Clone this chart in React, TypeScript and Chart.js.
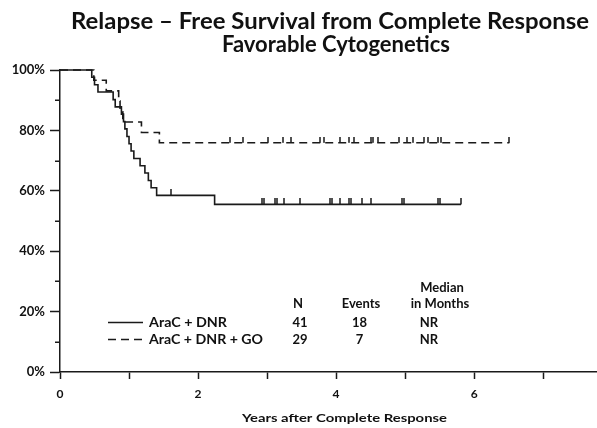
import { useEffect, useRef } from 'react';
import { Chart, registerables } from 'chart.js';

Chart.register(...registerables);

// ---- Text ----
const titleLines = ['Relapse \u2013 Free Survival from Complete Response', 'Favorable Cytogenetics'];
const xAxisTitle = 'Years after Complete Response';
const seriesNames = ['AraC + DNR', 'AraC + DNR + GO'];
const tableHeaderN = 'N';
const tableHeaderEvents = 'Events';
const tableHeaderMedian = ['Median', 'in Months'];
const tableN = ['41', '29'];
const tableEvents = ['18', '7'];
const tableMedian = ['NR', 'NR'];

// ---- Axes ----
const xMin = 0;
const xMax = 7.78;
const xLabelledTicks = [0, 2, 4, 6];
const yMin = 0;
const yMax = 100;
const yLabelledTicks = [0, 20, 40, 60, 80, 100];

// ---- AraC + DNR (solid) ----
const dnrEventTimes = [0.46, 0.5, 0.55, 0.77, 0.8, 0.89, 0.92, 0.94, 0.97, 1.0, 1.03, 1.07, 1.16, 1.23, 1.28, 1.32, 1.4, 2.24];
const dnrSurvival = [97.6, 95.1, 92.7, 90.2, 87.8, 85.4, 82.9, 80.5, 78.0, 75.6, 73.2, 70.7, 68.3, 65.9, 63.4, 61.0, 58.5, 55.5];
const dnrFollowUpEnd = 5.81;
const dnrCensored = [1.61, 2.93, 2.95, 3.12, 3.15, 3.24, 3.47, 3.91, 3.94, 4.05, 4.19, 4.22, 4.38, 4.5, 4.96, 4.98, 5.48, 5.51, 5.81];

// ---- AraC + DNR + GO (dashed) ----
const goEventTimes = [0.49, 0.67, 0.85, 0.87, 0.91, 1.18, 1.44];
const goSurvival = [96.6, 93.1, 89.7, 86.2, 82.8, 79.3, 75.9];
const goFollowUpEnd = 6.51;
const goCensored = [2.47, 2.65, 3.02, 3.23, 3.35, 3.77, 3.82, 4.06, 4.19, 4.26, 4.5, 4.53, 4.6, 4.91, 5.03, 5.11, 5.28, 5.33, 5.47, 5.52, 6.51];

const INK = '#1a1a1a';
const FONT = 'Lato, "DejaVu Sans", sans-serif';

function stepPoints(times: number[], surv: number[], end: number) {
  const pts = [{ x: 0, y: 100 }];
  times.forEach((t, i) => pts.push({ x: t, y: surv[i] }));
  pts.push({ x: end, y: surv[surv.length - 1] });
  return pts;
}

function survivalAt(times: number[], surv: number[], t: number) {
  let s = 100;
  for (let i = 0; i < times.length; i++) if (times[i] <= t) s = surv[i];
  return s;
}

function censorPoints(times: number[], surv: number[], cens: number[]) {
  return cens.map((t) => ({ x: t, y: survivalAt(times, surv, t) }));
}

function makeCensorMark() {
  const c = document.createElement('canvas');
  c.width = 2;
  c.height = 12;
  const g = c.getContext('2d')!;
  g.fillStyle = INK;
  g.fillRect(0.25, 0, 1.5, 6);
  return c;
}

function fitted(ctx: CanvasRenderingContext2D, text: string, x: number, baseline: number, size: number, width: number, align: 'center' | 'left') {
  ctx.save();
  ctx.font = `bold ${size}px ${FONT}`;
  const w = ctx.measureText(text).width;
  const sx = width / w;
  ctx.translate(x, baseline);
  ctx.scale(sx, 1);
  ctx.textAlign = align;
  ctx.textBaseline = 'alphabetic';
  ctx.fillText(text, 0, 0);
  ctx.restore();
}

function plain(ctx: CanvasRenderingContext2D, text: string, cx: number, baseline: number, size: number) {
  ctx.save();
  ctx.font = `bold ${size}px ${FONT}`;
  ctx.textAlign = 'center';
  ctx.textBaseline = 'alphabetic';
  ctx.fillText(text, cx, baseline);
  ctx.restore();
}

const annotations = {
  id: 'annotations',
  afterDraw(chart: any) {
    const ctx: CanvasRenderingContext2D = chart.ctx;
    ctx.save();
    ctx.fillStyle = '#111';
    ctx.strokeStyle = INK;

    // Title
    fitted(ctx, titleLines[0], 330, 29, 23, 518, 'center');
    fitted(ctx, titleLines[1], 336, 52, 23, 228, 'center');
    // X axis title
    fitted(ctx, xAxisTitle, 344.5, 422, 11.5, 205, 'center');

    // Minor y ticks
    const ys = chart.scales.y;
    ctx.lineWidth = 1.5;
    ys.ticks.forEach((t: any) => {
      if (!yLabelledTicks.includes(t.value)) {
        const py = Math.round(ys.getPixelForValue(t.value)) + 0.25;
        ctx.beginPath();
        ctx.moveTo(ys.right - 5, py);
        ctx.lineTo(ys.right, py);
        ctx.stroke();
      }
    });

    // Legend
    ctx.lineWidth = 1.6;
    ctx.beginPath();
    ctx.moveTo(108, 322.5);
    ctx.lineTo(143, 322.5);
    ctx.stroke();
    ctx.setLineDash([8, 5]);
    ctx.beginPath();
    ctx.moveTo(108, 339.5);
    ctx.lineTo(143, 339.5);
    ctx.stroke();
    ctx.setLineDash([]);
    fitted(ctx, seriesNames[0], 149, 327, 13, 78, 'left');
    fitted(ctx, seriesNames[1], 149, 343.5, 13, 114, 'left');

    // Table
    plain(ctx, tableHeaderMedian[0], 442, 292, 13);
    plain(ctx, tableHeaderN, 298, 307.5, 13);
    plain(ctx, tableHeaderEvents, 361, 307.5, 13);
    plain(ctx, tableHeaderMedian[1], 440, 307.5, 13);
    const rowBase = [327, 343.5];
    for (let i = 0; i < 2; i++) {
      plain(ctx, tableN[i], 300, rowBase[i], 13);
      plain(ctx, tableEvents[i], 359.5, rowBase[i], 13);
      plain(ctx, tableMedian[i], 429, rowBase[i], 13);
    }
    ctx.restore();
  },
};

export default function App() {
  const ref = useRef<HTMLCanvasElement | null>(null);

  useEffect(() => {
    document.body.style.margin = '0';
    const canvas = ref.current!;
    const mark = makeCensorMark();
    const chart = new Chart(canvas, {
      type: 'line',
      data: {
        datasets: [
          {
            label: seriesNames[0],
            data: stepPoints(dnrEventTimes, dnrSurvival, dnrFollowUpEnd),
            stepped: true,
            borderColor: INK,
            borderWidth: 1.6,
            pointRadius: 0,
            fill: false,
            clip: false as any,
          },
          {
            label: seriesNames[1],
            data: stepPoints(goEventTimes, goSurvival, goFollowUpEnd),
            stepped: true,
            borderColor: INK,
            borderWidth: 1.6,
            borderDash: [8, 5],
            pointRadius: 0,
            fill: false,
            clip: false as any,
          },
          {
            label: 'dnr censored',
            data: censorPoints(dnrEventTimes, dnrSurvival, dnrCensored),
            showLine: false,
            pointStyle: mark as any,
            pointRadius: 3,
            clip: false as any,
          },
          {
            label: 'go censored',
            data: censorPoints(goEventTimes, goSurvival, goCensored),
            showLine: false,
            pointStyle: mark as any,
            pointRadius: 3,
            clip: false as any,
          },
        ],
      },
      options: {
        responsive: false,
        animation: false,
        devicePixelRatio: 1,
        layout: { autoPadding: false, padding: { top: 70, left: 0, right: 0, bottom: 0 } },
        plugins: {
          legend: { display: false },
          title: { display: false },
          tooltip: { enabled: false },
        },
        scales: {
          x: {
            type: 'linear',
            min: xMin,
            max: xMax,
            afterFit: (s: any) => {
              s.height = 56;
            },
            border: { color: INK, width: 1.5 },
            grid: {
              drawOnChartArea: false,
              drawTicks: true,
              tickLength: 7,
              tickWidth: 1.5,
              tickColor: INK,
            },
            ticks: {
              stepSize: 1,
              includeBounds: false,
              autoSkip: false,
              maxRotation: 0,
              padding: 8,
              color: '#111',
              font: { family: FONT, weight: 'bold', size: 12 },
              callback: (v: any) => (xLabelledTicks.includes(Number(v)) ? String(v) : ''),
            },
          },
          y: {
            type: 'linear',
            min: yMin,
            max: yMax,
            afterFit: (s: any) => {
              s.width = 60;
            },
            border: { color: INK, width: 1.5 },
            grid: {
              drawOnChartArea: false,
              drawTicks: true,
              tickLength: 10,
              tickWidth: 1.5,
              tickColor: (c: any) => (c.tick && yLabelledTicks.includes(c.tick.value) ? INK : 'rgba(0,0,0,0)'),
            },
            ticks: {
              stepSize: 10,
              autoSkip: false,
              padding: 5,
              color: '#111',
              font: { family: FONT, weight: 'bold', size: 13 },
              callback: (v: any) => (yLabelledTicks.includes(Number(v)) ? `${v}%` : ''),
            },
          },
        },
      },
      plugins: [annotations],
    });
    return () => chart.destroy();
  }, []);

  return (
    <div style={{ width: 597, height: 428, background: '#fff' }}>
      <canvas ref={ref} width={597} height={428} style={{ display: 'block', width: 597, height: 428 }} />
    </div>
  );
}
